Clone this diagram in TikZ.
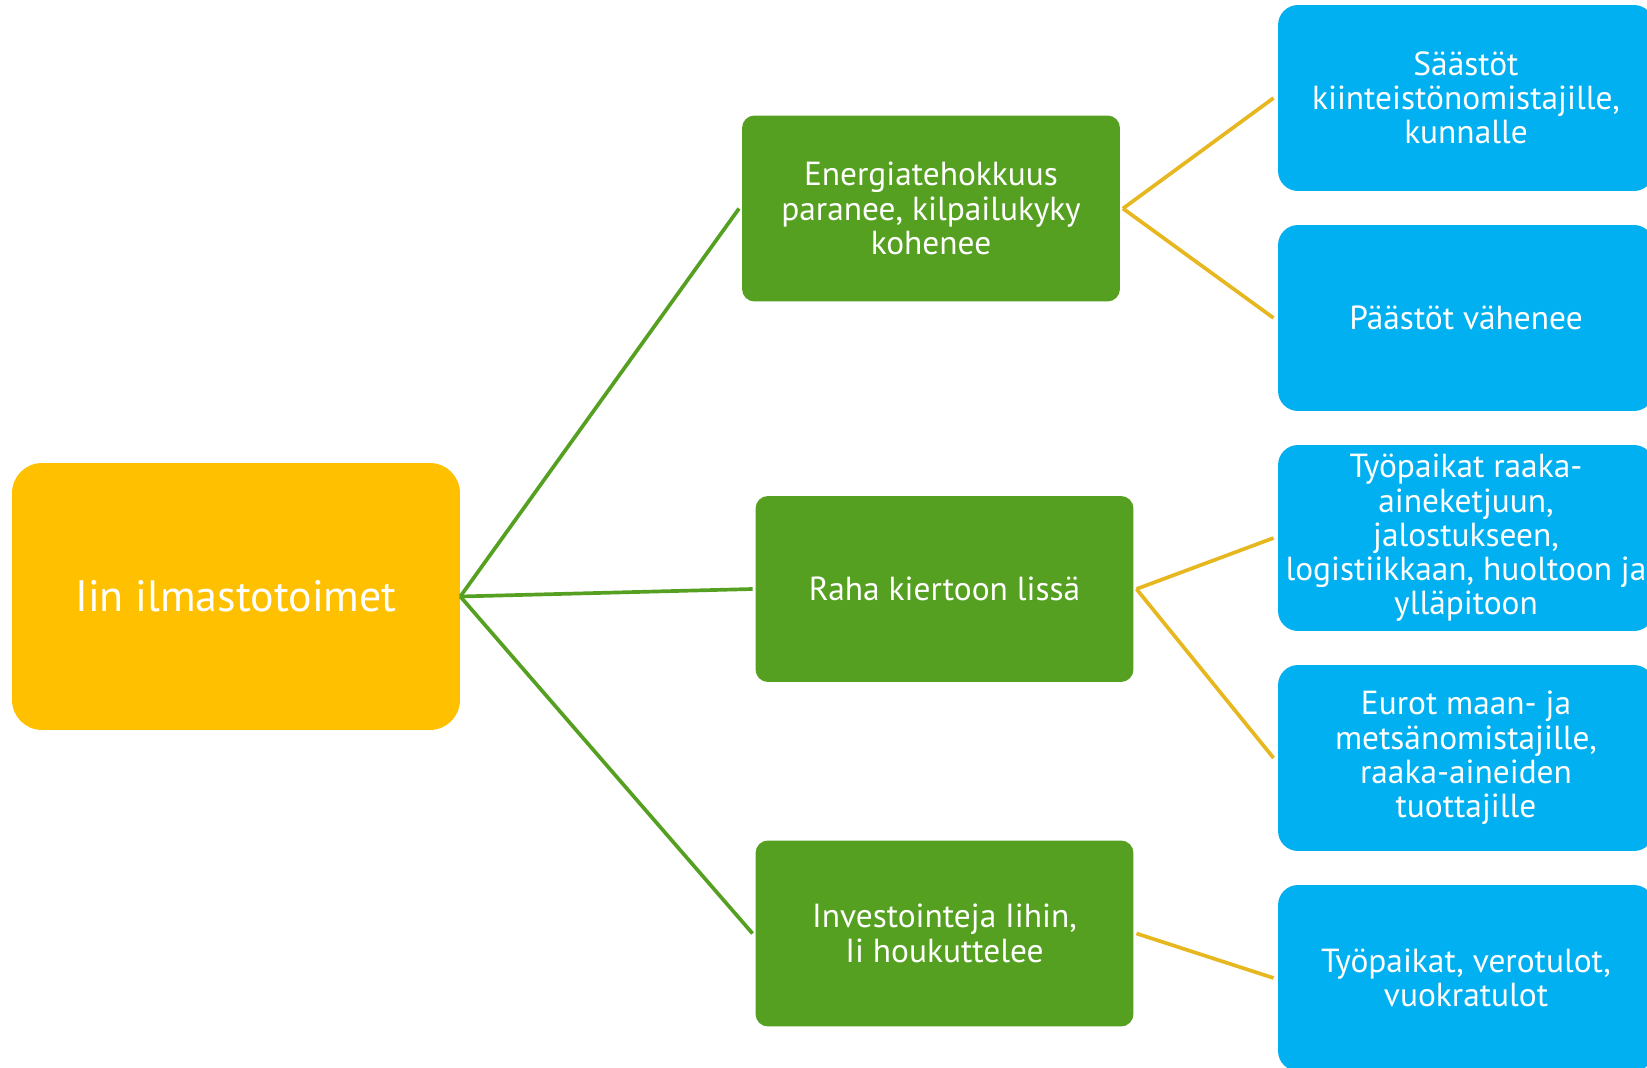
\documentclass[tikz,border=0pt]{standalone}
\usepackage{fontspec}
\setmainfont{PT Sans}
\usetikzlibrary{positioning}

\definecolor{rootyellow}{HTML}{FFC000}
\definecolor{midgreen}{HTML}{55A021}
\definecolor{leafblue}{HTML}{00B0F0}
\definecolor{linkyellow}{HTML}{E6B71E}

\begin{document}
\begin{tikzpicture}[
    x=0.02cm, y=-0.02cm,
    root/.style={rectangle, fill=rootyellow, rounded corners=0.6cm, minimum width=8.96cm, minimum height=5.34cm, text=white, font=\fontsize{25}{30}\selectfont},
    effect/.style={rectangle, fill=midgreen, rounded corners=0.25cm, minimum width=7.56cm, minimum height=3.72cm, text=white, align=center, font=\fontsize{19}{19.5}\selectfont, outer sep=0.06cm},
    result/.style={rectangle, fill=leafblue, rounded corners=0.4cm, minimum width=7.52cm, minimum height=3.72cm, text=white, align=center, font=\fontsize{19}{19.5}\selectfont, outer sep=0.09cm},
    greenlink/.style={draw=midgreen, line width=2.1pt},
    yellowlink/.style={draw=linkyellow, line width=2.1pt}
]
\useasboundingbox (0,0) rectangle (1647,1068);

% Root
\node[root] (iin) at (236,596.5) {Iin ilmastotoimet};

% Effects
\node[effect] (energia) at (931,208.5) {Energiatehokkuus\\paranee, kilpailukyky\\kohenee};
\node[effect] (raha) at (944.5,589) {Raha kiertoon lissä};
\node[effect] (invest) at (944.5,933.5) {Investointeja Iihin,\\Ii houkuttelee};

% Results
\node[result] (saastot) at (1466,98) {Säästöt\\kiinteistönomistajille,\\kunnalle};
\node[result] (paastot) at (1466,318) {Päästöt vähenee};
\node[result] (tyopaikat) at (1466,538) {Työpaikat raaka-\\aineketjuun,\\jalostukseen,\\logistiikkaan, huoltoon ja\\ylläpitoon};
\node[result] (eurot) at (1466,758) {Eurot maan- ja\\metsänomistajille,\\raaka-aineiden\\tuottajille};
\node[result] (verot) at (1466,978) {Työpaikat, verotulot,\\vuokratulot};

% Root to effects
\draw[greenlink] (iin.east) -- (energia.west);
\draw[greenlink] (iin.east) -- (raha.west);
\draw[greenlink] (iin.east) -- (invest.west);

% Effects to results
\draw[yellowlink] (energia.east) -- (saastot.west);
\draw[yellowlink] (energia.east) -- (paastot.west);
\draw[yellowlink] (raha.east) -- (tyopaikat.west);
\draw[yellowlink] (raha.east) -- (eurot.west);
\draw[yellowlink] (invest.east) -- (verot.west);

\end{tikzpicture}
\end{document}
